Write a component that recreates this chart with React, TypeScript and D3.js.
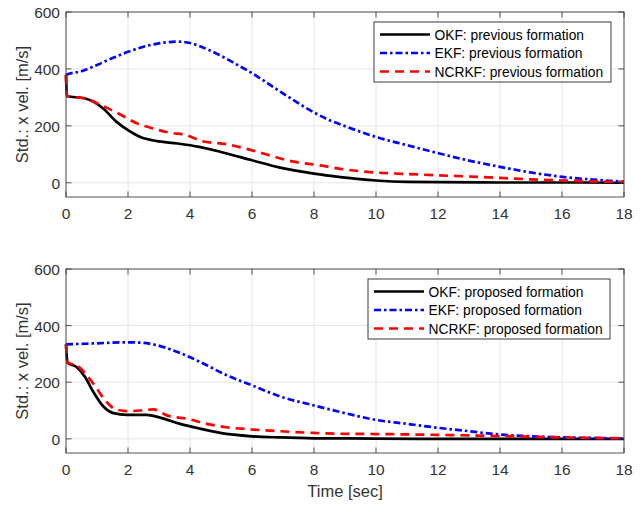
import React from "react";
import * as d3 from "d3";

// ---------- data ----------
const xTicks = [0, 2, 4, 6, 8, 10, 12, 14, 16, 18];
const yTicks = [0, 200, 400, 600];

// top panel: previous formation
const prevOkfT = [0, 0.03, 0.6, 1.2, 1.63, 2, 2.4, 2.9, 3.6, 4.3, 5, 6, 6.9, 8, 8.85, 10, 11, 12, 14, 16, 18];
const prevOkfV = [378, 304, 297, 261, 214, 185, 161, 147, 138, 126, 108, 79, 53, 32, 20, 8, 3, 2, 1, 1, 0];

const prevEkfT = [0, 0.05, 0.5, 1, 1.5, 2, 2.5, 3, 3.6, 4, 4.5, 5, 5.5, 6, 6.5, 7, 7.5, 8, 8.5, 9, 10, 11, 12, 13, 14, 15, 16, 17, 18];
const prevEkfV = [378, 381, 392, 414, 438, 460, 478, 490, 496, 491, 472, 446, 416, 385, 350, 314, 279, 247, 220, 199, 161, 132, 104, 78, 56, 36, 21, 11, 4];

const prevNcrT = [0, 0.03, 0.6, 1.2, 1.75, 2.3, 2.8, 3.35, 3.9, 4.4, 5.2, 5.8, 6.45, 7.3, 8.2, 8.85, 10, 11, 12, 13, 14, 15, 16, 17, 18];
const prevNcrV = [378, 304, 297, 269, 240, 208, 191, 176, 167, 146, 135, 120, 100, 75, 61, 49, 36, 31, 26, 22, 17, 12, 8, 5, 3];

// bottom panel: proposed formation
const propOkfT = [0, 0.05, 0.34, 0.61, 0.88, 1.2, 1.53, 1.96, 2.6, 3.03, 3.68, 4.32, 4.97, 6, 6.9, 8, 10, 12, 18];
const propOkfV = [334, 269, 254, 219, 166, 115, 91, 85, 85, 75, 53, 36, 21, 9, 5, 2, 1, 0, 0];

const propEkfT = [0, 0.88, 1.96, 2.5, 2.92, 3.57, 4.32, 5.18, 6, 6.9, 8, 8.84, 10, 11, 12, 13, 14, 15, 16, 17, 18];
const propEkfV = [334, 337, 341, 339, 331, 308, 272, 225, 189, 150, 118, 95, 67, 53, 39, 27, 15, 9, 5, 3, 1];

const propNcrT = [0, 0.05, 0.34, 0.67, 0.99, 1.31, 1.63, 2.06, 2.5, 2.82, 3.25, 3.9, 4.54, 5.18, 6, 6.9, 8, 8.84, 10, 12, 14, 16, 18];
const propNcrV = [334, 269, 260, 225, 178, 130, 103, 98, 101, 104, 83, 71, 53, 41, 33, 27, 21, 18, 17, 14, 10, 5, 2];

const prevLabels = ["OKF: previous formation", "EKF: previous formation", "NCRKF: previous formation"];
const propLabels = ["OKF: proposed formation", "EKF: proposed formation", "NCRKF: proposed formation"];

// ---------- styles ----------
const FONT = "'Liberation Sans', Arial, Helvetica, sans-serif";
const AX = "#404040";
const TXT = "#333333";
const styles = [
  { color: "#000000", dash: "none" },
  { color: "#0000ff", dash: "7,3,2.5,3" },
  { color: "#ff0000", dash: "9,6" },
];

type Panel = {
  top: number;
  bottom: number;
  series: [number[], number[]][];
  labels: string[];
  legend: { x: number; y: number; w: number };
  xLabel: boolean;
};

const LEFT = 66;
const RIGHT = 624;

function PanelView({ p }: { p: Panel }) {
  const x = d3.scaleLinear().domain([0, 18]).range([LEFT, RIGHT]);
  const y = d3.scaleLinear().domain([-50, 600]).range([p.bottom, p.top]);
  const line = d3
    .line<[number, number]>()
    .x((d) => x(d[0]))
    .y((d) => y(d[1]))
    .curve(d3.curveMonotoneX);
  const tl = 5.5;
  return (
    <g>
      {/* grid */}
      {xTicks.map((t) => (
        <line key={"gx" + t} x1={x(t)} x2={x(t)} y1={p.top} y2={p.bottom} stroke="#e6e6e6" strokeWidth={1} />
      ))}
      {yTicks.map((t) => (
        <line key={"gy" + t} x1={LEFT} x2={RIGHT} y1={y(t)} y2={y(t)} stroke="#e6e6e6" strokeWidth={1} />
      ))}
      {/* series */}
      {p.series.map(([ts, vs], i) => (
        <path
          key={"s" + i}
          d={line(ts.map((t, k) => [t, vs[k]] as [number, number])) || ""}
          fill="none"
          stroke={styles[i].color}
          strokeWidth={2.7}
          strokeDasharray={styles[i].dash}
          strokeLinejoin="round"
        />
      ))}
      {/* box */}
      <rect x={LEFT} y={p.top} width={RIGHT - LEFT} height={p.bottom - p.top} fill="none" stroke={AX} strokeWidth={0.9} />
      {/* ticks */}
      {xTicks.map((t) => (
        <g key={"tx" + t}>
          <line x1={x(t)} x2={x(t)} y1={p.bottom} y2={p.bottom - tl} stroke={AX} strokeWidth={0.9} />
          <line x1={x(t)} x2={x(t)} y1={p.top} y2={p.top + tl} stroke={AX} strokeWidth={0.9} />
          <text x={x(t)} y={p.bottom + 22} textAnchor="middle" fontFamily={FONT} fontSize={15.5} fill={TXT}>
            {t}
          </text>
        </g>
      ))}
      {yTicks.map((t) => (
        <g key={"ty" + t}>
          <line x1={LEFT} x2={LEFT + tl} y1={y(t)} y2={y(t)} stroke={AX} strokeWidth={0.9} />
          <line x1={RIGHT} x2={RIGHT - tl} y1={y(t)} y2={y(t)} stroke={AX} strokeWidth={0.9} />
          <text x={LEFT - 6} y={y(t) + 6} textAnchor="end" fontFamily={FONT} fontSize={15.5} fill={TXT}>
            {t}
          </text>
        </g>
      ))}
      {/* y label */}
      <text
        transform={`translate(28,${(p.top + p.bottom) / 2}) rotate(-90)`}
        textAnchor="middle"
        fontFamily={FONT}
        fontSize={16.5}
        fill={TXT}
      >
        Std.: x vel. [m/s]
      </text>
      {p.xLabel && (
        <text x={(LEFT + RIGHT) / 2} y={497} textAnchor="middle" fontFamily={FONT} fontSize={16.5} fill={TXT}>
          Time [sec]
        </text>
      )}
      {/* legend */}
      <g>
        <rect x={p.legend.x} y={p.legend.y} width={p.legend.w} height={60} fill="#ffffff" stroke="#262626" strokeWidth={0.9} />
        {p.labels.map((lab, i) => {
          const cy = p.legend.y + 12.5 + i * 18.5;
          return (
            <g key={"lg" + i}>
              <line
                x1={p.legend.x + 6}
                x2={p.legend.x + 56}
                y1={cy}
                y2={cy}
                stroke={styles[i].color}
                strokeWidth={2.7}
                strokeDasharray={styles[i].dash}
              />
              <text x={p.legend.x + 60.5} y={cy + 5} fontFamily={FONT} fontSize={13.8} fill="#000">
                {lab}
              </text>
            </g>
          );
        })}
      </g>
    </g>
  );
}

export default function App() {
  const panels: Panel[] = [
    {
      top: 12,
      bottom: 197,
      series: [
        [prevOkfT, prevOkfV],
        [prevEkfT, prevEkfV],
        [prevNcrT, prevNcrV],
      ],
      labels: prevLabels,
      legend: { x: 374, y: 22, w: 237 },
      xLabel: false,
    },
    {
      top: 269,
      bottom: 453,
      series: [
        [propOkfT, propOkfV],
        [propEkfT, propEkfV],
        [propNcrT, propNcrV],
      ],
      labels: propLabels,
      legend: { x: 368, y: 279, w: 242 },
      xLabel: true,
    },
  ];
  return (
    <svg
      width={644}
      height={509}
      style={{ position: "absolute", left: 0, top: 0, display: "block", background: "#fff" }}
    >
      <rect width={644} height={509} fill="#ffffff" />
      {panels.map((p, i) => (
        <PanelView key={i} p={p} />
      ))}
    </svg>
  );
}
